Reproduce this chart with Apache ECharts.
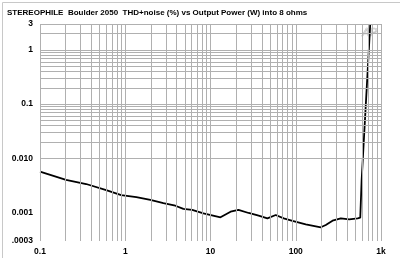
<!DOCTYPE html>
<html><head><meta charset="utf-8">
<script src="https://cdn.jsdelivr.net/npm/echarts@6/dist/echarts.min.js"></script>
<style>html,body{margin:0;padding:0;background:#fff}#c{width:400px;height:258px}</style>
</head><body><div id="c"></div>
<script>
const chartTitle = 'STEREOPHILE  Boulder 2050  THD+noise (%) vs Output Power (W) into 8 ohms';
const powerW = [0.1, 0.202, 0.348, 0.598, 0.897, 1.35, 1.97, 2.80, 3.87, 4.81, 6.09, 8.27, 13.1, 17.2, 21.3, 28.0, 36.7, 46.5, 58.2, 72.3, 91.5, 131, 197, 225, 270, 338, 424, 532, 571, 593, 748];
const thdPct = [0.00568, 0.00400, 0.00337, 0.00261, 0.00211, 0.00194, 0.00171, 0.00149, 0.00134, 0.00117, 0.00112, 0.000973, 0.000820, 0.00104, 0.00112, 0.000985, 0.000878, 0.000786, 0.000904, 0.000786, 0.000702, 0.000610, 0.000537, 0.000592, 0.000710, 0.000786, 0.000754, 0.000786, 0.000806, 0.0040, 3.0];
const xTicks = [0.1, 1, 10, 100, 1000];
const xTickLabels = ['0.1', '1', '10', '100', '1k'];
const yTicks = [0.0003, 0.001, 0.01, 0.1, 1, 3];
const yTickLabels = ['.0003', '0.001', '0.010', '0.1', '1', '3'];
const gridMultipliers = [1, 2, 3, 4, 5, 6, 7, 8, 9];
const xDecades = [0.1, 1, 10, 100];
const yDecades = [0.0001, 0.001, 0.01, 0.1, 1];

const xMin = 0.1, xMax = 1000, yMin = 0.0003, yMax = 3;
const xGrid = [];
xDecades.forEach(d => gridMultipliers.forEach(m => { const v = d * m; if (v >= xMin * 0.999 && v <= xMax * 1.001) xGrid.push(v); }));
xGrid.push(xMax);
const yGrid = [];
yDecades.forEach(d => gridMultipliers.forEach(m => { const v = d * m; if (v >= yMin * 0.999 && v <= yMax * 1.001) yGrid.push(v); }));

function labelFor(v, ticks, labels) {
  for (let i = 0; i < ticks.length; i++) {
    if (Math.abs(Math.log10(v) - Math.log10(ticks[i])) < 0.01) return labels[i];
  }
  return '';
}

const font = 'Liberation Sans, Arial, sans-serif';
const gridColor = '#b0b0b0';
const chart = echarts.init(document.getElementById('c'), null, {renderer: 'canvas'});
chart.setOption({
  animation: false,
  backgroundColor: '#fff',
  grid: {left: 40, right: 19, top: 24, bottom: 17, containLabel: false},
  xAxis: {
    type: 'log', logBase: 10, min: xMin, max: xMax,
    axisLine: {show: false}, axisTick: {show: false}, splitLine: {show: false},
    axisLabel: {
      color: '#000', fontFamily: font, fontWeight: 'bold', fontSize: 8.5, margin: 6,
      formatter: v => labelFor(v, xTicks, xTickLabels)
    }
  },
  yAxis: {
    type: 'log', logBase: 10, min: yMin, max: yMax,
    axisLine: {show: false}, axisTick: {show: false}, splitLine: {show: false},
    axisLabel: {
      color: '#000', fontFamily: font, fontWeight: 'bold', fontSize: 8.5, margin: 7,
      formatter: v => labelFor(v, yTicks, yTickLabels)
    }
  },
  graphic: [
    {type: 'rect', left: 0, top: 0, shape: {width: 399, height: 257, x: 0.5, y: 0.5}, style: {fill: 'none', stroke: '#c8c8c8', lineWidth: 1}, silent: true},
    {type: 'text', left: 7, top: 9, style: {text: chartTitle, font: 'bold 8px ' + font, fill: '#000'}},
    {type: 'text', left: 362, top: 27, style: {text: 'AP', font: 'italic 11px ' + font, fill: 'none', stroke: '#c4c4c4', lineWidth: 0.7}}
  ],
  series: [
    {
      type: 'line', data: [], z: 1, silent: true,
      markLine: {
        silent: true, symbol: ['none', 'none'], animation: false,
        label: {show: false},
        lineStyle: {color: gridColor, width: 1, type: 'solid'},
        emphasis: {disabled: true},
        data: xGrid.map(v => ({xAxis: v})).concat(yGrid.map(v => ({yAxis: v})))
      }
    },
    {
      type: 'line', z: 3, symbol: 'none', smooth: false,
      lineStyle: {color: '#000', width: 1.8},
      data: powerW.map((p, i) => [p, thdPct[i]])
    }
  ]
});
</script></body></html>
